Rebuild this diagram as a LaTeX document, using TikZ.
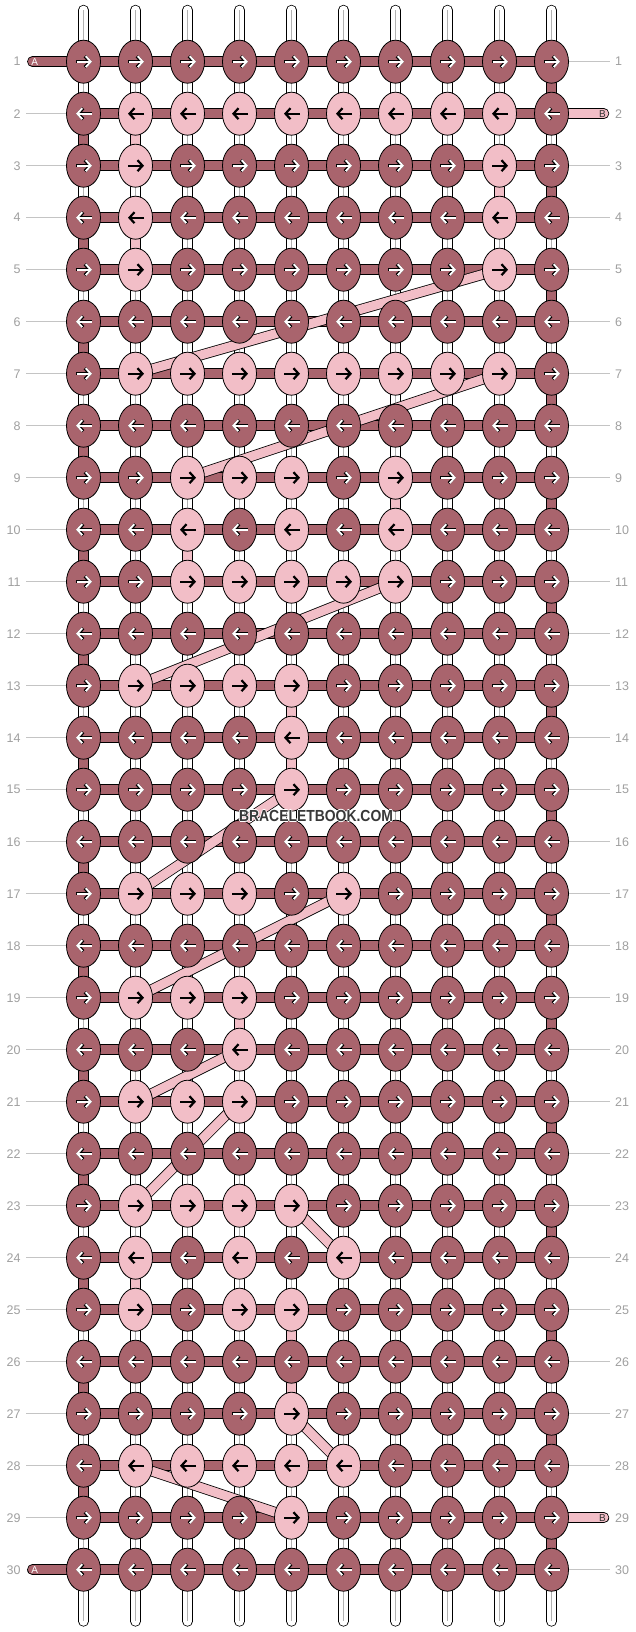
\documentclass[tikz,border=0pt]{standalone}
\usepackage{fontspec}
\setmainfont{Liberation Sans}
\usetikzlibrary{arrows.meta,shapes.geometric}
\definecolor{dk}{HTML}{A9646D}
\definecolor{pk}{HTML}{F2BEC7}
\definecolor{lbl}{HTML}{A0A0A0}
\definecolor{gln}{HTML}{C4C4C4}
\definecolor{wmc}{HTML}{383838}
\newcommand\halotext[1]{\leavevmode\rlap{\color{white}\hspace{-0.9pt}#1}\rlap{\color{white}\hspace{0.9pt}#1}\rlap{\color{white}\raisebox{0.9pt}{#1}}\rlap{\color{white}\raisebox{-0.9pt}{#1}}#1}
\tikzset{
  knotbase/.style={ellipse, draw=black, line width=0.8pt, minimum width=34pt, minimum height=43pt, inner sep=0pt},
  darkknot/.style={knotbase, fill=dk},
  pinkknot/.style={knotbase, fill=pk},
  strout/.style={black, line width=10.6pt, line cap=round},
  strin/.style={white, line width=9pt, line cap=round},
  strmid/.style={black!30, line width=0.8pt},
  bandout/.style={black, line width=10.6pt},
  bandin/.style={line width=9pt},
  gl/.style={gln, line width=0.9pt},
  rowlabel/.style={text=lbl, font=\fontsize{12.5}{12.5}\selectfont, inner sep=0pt},
  endlabel/.style={font=\fontsize{10}{10}\selectfont, inner sep=0pt},
  blkarrow/.style={black, line width=2.2pt, -{Straight Barb[length=5pt,width=11pt]}},
  outarrow/.style={black, line width=3.2pt, -{Straight Barb[length=5pt,width=11pt]}},
  whtarrow/.style={white, line width=1.9pt, -{Straight Barb[length=5pt,width=11pt]}},
  wmtext/.style={text=wmc, font=\bfseries\fontsize{16}{16}\selectfont, inner sep=0pt}
}
\newcommand\bandseg[3]{\draw[bandout] (#2) -- (#3); \draw[bandin, #1] (#2) -- (#3);}
\begin{document}
\begin{tikzpicture}[x=1pt,y=-1pt]
\useasboundingbox (0,0) rectangle (636,1632);
\fill[white] (0,0) rectangle (636,1632);
% grid coordinates
\foreach \r in {1,...,30}{
  \foreach \c in {1,...,10}{
    \coordinate (p\r-\c) at ({83.5+52*(\c-1)},{61.7+52*(\r-1)});
  }
  \coordinate (ll\r) at (26,{61.7+52*(\r-1)});
  \coordinate (rl\r) at (610,{61.7+52*(\r-1)});
}
\foreach \c in {1,...,10}{
  \coordinate (top\c) at ({83.5+52*(\c-1)},10.1);
  \coordinate (bot\c) at ({83.5+52*(\c-1)},1621.3);
}
% pink knots
\foreach \r/\cs in {2/{2,3,4,5,6,7,8,9},3/{2,9},4/{2,9},5/{2,9},7/{2,3,4,5,6,7,8,9},
  9/{3,4,5,7},10/{3,5,7},11/{3,4,5,6,7},13/{2,3,4,5},14/{5},15/{5},17/{2,3,4,6},
  19/{2,3,4},20/{4},21/{2,3,4},23/{2,3,4,5},24/{2,4,6},25/{2,4,5},27/{5},
  28/{2,3,4,5,6},29/{5}}{
  \foreach \c in \cs {\expandafter\gdef\csname pk@\r @\c\endcsname{}}
}
% guide lines
\foreach \r in {2,...,29}{\draw[gl] (ll\r) -- (p\r-1);}
\foreach \r in {1,3,4,5,6,7,8,9,10,11,12,13,14,15,16,17,18,19,20,21,22,23,24,25,26,27,28,30}{\draw[gl] (p\r-10) -- (rl\r);}
% vertical strings
\foreach \c in {1,...,10}{
  \draw[strout] (top\c) -- (bot\c);
  \draw[strin] (top\c) -- (bot\c);
  \draw[strmid] (top\c) -- (bot\c);
}
% edge turns
\foreach \r in {2,4,...,28}{\pgfmathtruncatemacro\rn{\r+1}\bandseg{dk}{p\r-1}{p\rn-1}}
\foreach \r in {1,3,...,29}{\pgfmathtruncatemacro\rn{\r+1}\bandseg{dk}{p\r-10}{p\rn-10}}
% pink vertical segments
\foreach \c/\r in {2/2,2/4,9/3,7/9,3/10,5/13,5/14,4/19,2/24,5/25,5/26}{
  \pgfmathtruncatemacro\rn{\r+1}\bandseg{pk}{p\r-\c}{p\rn-\c}}
% horizontal bands
\foreach \r in {1,...,30}{\bandseg{dk}{p\r-1}{p\r-10}}
% end strings
\coordinate (ea1) at (32.4,61.7);
\coordinate (ea30) at (32.4,1569.7);
\coordinate (eb2) at (603.9,113.7);
\coordinate (eb29) at (603.9,1517.7);
\draw[strout] (ea1) -- (p1-1); \draw[strin, dk] (ea1) -- (p1-1);
\draw[strout] (ea30) -- (p30-1); \draw[strin, dk] (ea30) -- (p30-1);
\draw[strout] (eb2) -- (p2-10); \draw[strin, pk] (eb2) -- (p2-10);
\draw[strout] (eb29) -- (p29-10); \draw[strin, pk] (eb29) -- (p29-10);
\node[endlabel, text=white] (tA1) at (34.8,62) {A};
\node[endlabel, text=white] (tA30) at (34.8,1570) {A};
\node[endlabel, text=black!80] (tB2) at (602.5,114) {B};
\node[endlabel, text=black!80] (tB29) at (602.5,1518) {B};
% diagonal carried strings
\foreach \ra/\ca/\rb/\cb in {5/9/7/2,7/9/9/3,11/7/13/2,15/5/17/2,17/6/19/2,20/4/21/2,21/4/23/2,23/5/24/6,27/5/28/6,28/2/29/5}{
  \bandseg{pk}{p\ra-\ca}{p\rb-\cb}}
% knots
\foreach \r in {1,...,30}{
  \foreach \c in {1,...,10}{
    \ifcsname pk@\r @\c\endcsname
      \node[pinkknot] (k\r-\c) at (p\r-\c) {};
      \ifodd\r\relax
        \draw[blkarrow] ([xshift=-7.5pt]k\r-\c.center) -- ([xshift=8.5pt]k\r-\c.center);
      \else
        \draw[blkarrow] ([xshift=8.5pt]k\r-\c.center) -- ([xshift=-7.5pt]k\r-\c.center);
      \fi
    \else
      \node[darkknot] (k\r-\c) at (p\r-\c) {};
      \ifodd\r\relax
        \draw[outarrow] ([xshift=-7.5pt]k\r-\c.center) -- ([xshift=8.5pt]k\r-\c.center);
        \draw[whtarrow] ([xshift=-7pt]k\r-\c.center) -- ([xshift=8.5pt]k\r-\c.center);
      \else
        \draw[outarrow] ([xshift=8.5pt]k\r-\c.center) -- ([xshift=-7.5pt]k\r-\c.center);
        \draw[whtarrow] ([xshift=8pt]k\r-\c.center) -- ([xshift=-7.5pt]k\r-\c.center);
      \fi
    \fi
  }
}
% row labels
\foreach \r in {1,...,30}{
  \node[rowlabel, anchor=east] (L\r) at (20.8,{61.7+52*(\r-1)}) {\r};
  \node[rowlabel, anchor=west] (R\r) at (615,{61.7+52*(\r-1)}) {\r};
}
% watermark
\node[wmtext] (wm) at (316,815.7) {\scalebox{0.87}[1]{\halotext{BRACELETBOOK.COM}}};
\end{tikzpicture}
\end{document}
